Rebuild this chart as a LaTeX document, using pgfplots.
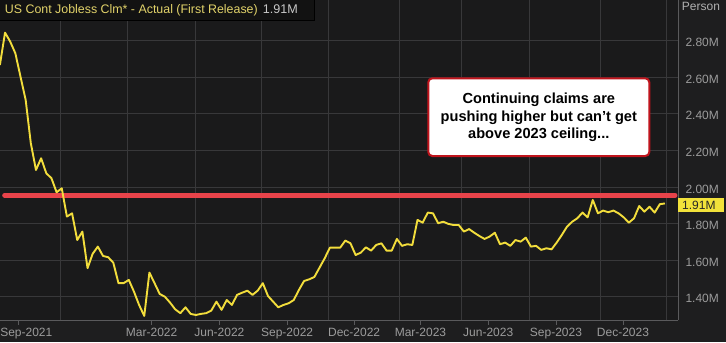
\documentclass[border=0pt]{standalone}
\usepackage{pgfplots}
\pgfplotsset{compat=1.18}
\usepackage{pgfplotstable}
\usepackage{fontspec}
\setmainfont{Liberation Sans}
\definecolor{bg}{HTML}{1E1E1F}
\definecolor{plotbg}{HTML}{1A1A1B}
\definecolor{gridc}{HTML}{38383A}
\definecolor{axc}{HTML}{5A5A5C}
\definecolor{labc}{HTML}{9C9C9C}
\definecolor{linec}{HTML}{F2DD3C}
\definecolor{redl}{HTML}{E8434A}
\definecolor{boxred}{HTML}{C0141C}
\definecolor{titley}{HTML}{E2D36A}
\definecolor{titlebg}{HTML}{121212}
\definecolor{valbox}{HTML}{F2E23A}

\pgfplotstableread{
x y
-25 2.667
-18 2.844
-11 2.795
-4 2.731
3 2.603
10 2.476
17 2.239
24 2.093
31 2.157
38 2.075
45 2.048
52 1.971
59 1.993
66 1.838
73 1.856
80 1.710
87 1.756
94 1.556
101 1.635
108 1.674
115 1.623
122 1.616
129 1.586
136 1.474
143 1.474
150 1.492
157 1.428
164 1.355
171 1.295
178 1.532
185 1.474
192 1.415
199 1.400
206 1.368
213 1.331
220 1.310
227 1.342
234 1.306
241 1.300
248 1.306
255 1.310
262 1.324
269 1.373
276 1.328
283 1.382
290 1.355
297 1.410
304 1.422
311 1.433
318 1.410
325 1.433
332 1.474
339 1.404
346 1.373
353 1.342
360 1.355
367 1.364
374 1.382
381 1.437
388 1.486
395 1.495
402 1.508
409 1.559
416 1.610
423 1.668
430 1.668
437 1.668
444 1.707
451 1.692
458 1.628
465 1.641
472 1.670
479 1.652
486 1.683
493 1.692
500 1.652
507 1.652
514 1.716
521 1.678
528 1.687
535 1.683
542 1.820
549 1.805
556 1.860
563 1.856
570 1.802
577 1.810
584 1.798
591 1.792
598 1.792
605 1.756
612 1.770
619 1.750
626 1.732
633 1.716
640 1.729
647 1.750
654 1.687
661 1.696
668 1.678
675 1.710
682 1.701
689 1.723
696 1.674
703 1.678
710 1.656
717 1.665
724 1.659
731 1.696
738 1.738
745 1.783
752 1.810
759 1.829
766 1.860
773 1.834
780 1.929
787 1.856
794 1.871
801 1.862
808 1.871
815 1.856
822 1.834
829 1.805
836 1.829
843 1.896
850 1.865
857 1.892
864 1.860
871 1.906
878 1.910
}\claims

\begin{document}
\begin{tikzpicture}[x=1bp,y=1bp]
\fill[bg] (0,-22) rectangle (726,320);
\begin{axis}[
  at={(0,0)}, anchor=south west,
  width=678bp, height=320bp, scale only axis,
  xmin=-24.85, xmax=895.7, ymin=1.2726, ymax=3.0225,
  axis background/.style={fill=plotbg},
  axis x line*=bottom, axis y line*=right,
  axis line style={axc, line width=0.8bp},
  xtick={0,181,273,365,456,546,638,730,821},
  xticklabels={\hspace*{16bp}Sep-2021,Mar-2022,Jun-2022,Sep-2022,Dec-2022,Mar-2023,Jun-2023,Sep-2023,Dec-2023},
  x tick label style={font=\fontsize{12bp}{14bp}\selectfont, text=labc},
  xtick style={axc, line width=0.8bp},
  tick align=outside,
  major tick length=5bp,
  extra x ticks={57.0,148.5,239.9,330.5,420.9,517.3,602.0,693.4,790.8,879.4},
  extra x tick labels={},
  extra x tick style={grid=major, major tick length=0pt},
  x grid style={gridc, line width=0.8bp},
  ytick={1.4,1.6,1.8,2.0,2.2,2.4,2.6,2.8},
  yticklabels={1.40M,1.60M,1.80M,2.00M,2.20M,2.40M,2.60M,2.80M},
  y tick label style={font=\fontsize{12bp}{14bp}\selectfont, text=labc, anchor=west, xshift=-1bp, yshift=-2bp},
  ytick style={draw=none},
  ymajorgrids,
  y grid style={gridc, line width=0.8bp},
  /pgf/number format/assume math mode=true,
]
\addplot[redl, line width=5bp, line cap=round] coordinates {(-18.5,1.955) (891.6,1.955)};
\addplot[linec, line width=1.9bp, line join=round] table[x=x,y=y] {\claims};
\end{axis}
% title bar
\draw[draw=black, line width=0.8bp, fill=titlebg] (-2,299.3) rectangle (314,322);
\node[anchor=base west, inner sep=0, text=titley, font=\fontsize{12.4bp}{14bp}\selectfont] at (4.7,306.7) {US Cont Jobless Clm* - Actual (First Release)};
\node[anchor=base west, inner sep=0, text=black!22, font=\fontsize{12.6bp}{14bp}\selectfont] at (262.7,306.7) {1.91M};
% annotation
\draw[boxred, line width=2bp, fill=white, rounded corners=4bp] (428.3,164) rectangle (649.3,241.7);
\node[align=center, text=black, font=\bfseries\fontsize{14.6bp}{17.5bp}\selectfont] at (538.8,202.6) {Continuing claims are\\pushing higher but can't get\\above 2023 ceiling...};
% value box
\fill[valbox] (678.3,108.3) rectangle (724,121.7);
\node[anchor=west, inner sep=0, text=black!85, font=\fontsize{12bp}{14bp}\selectfont] at (682,115) {1.91M};
% unit
\node[anchor=west, inner sep=0, text=labc!80, font=\fontsize{12bp}{14bp}\selectfont] at (681.7,314) {Person};
\pgfresetboundingbox
\useasboundingbox (0,-22) rectangle (726,320);
\end{tikzpicture}
\end{document}
